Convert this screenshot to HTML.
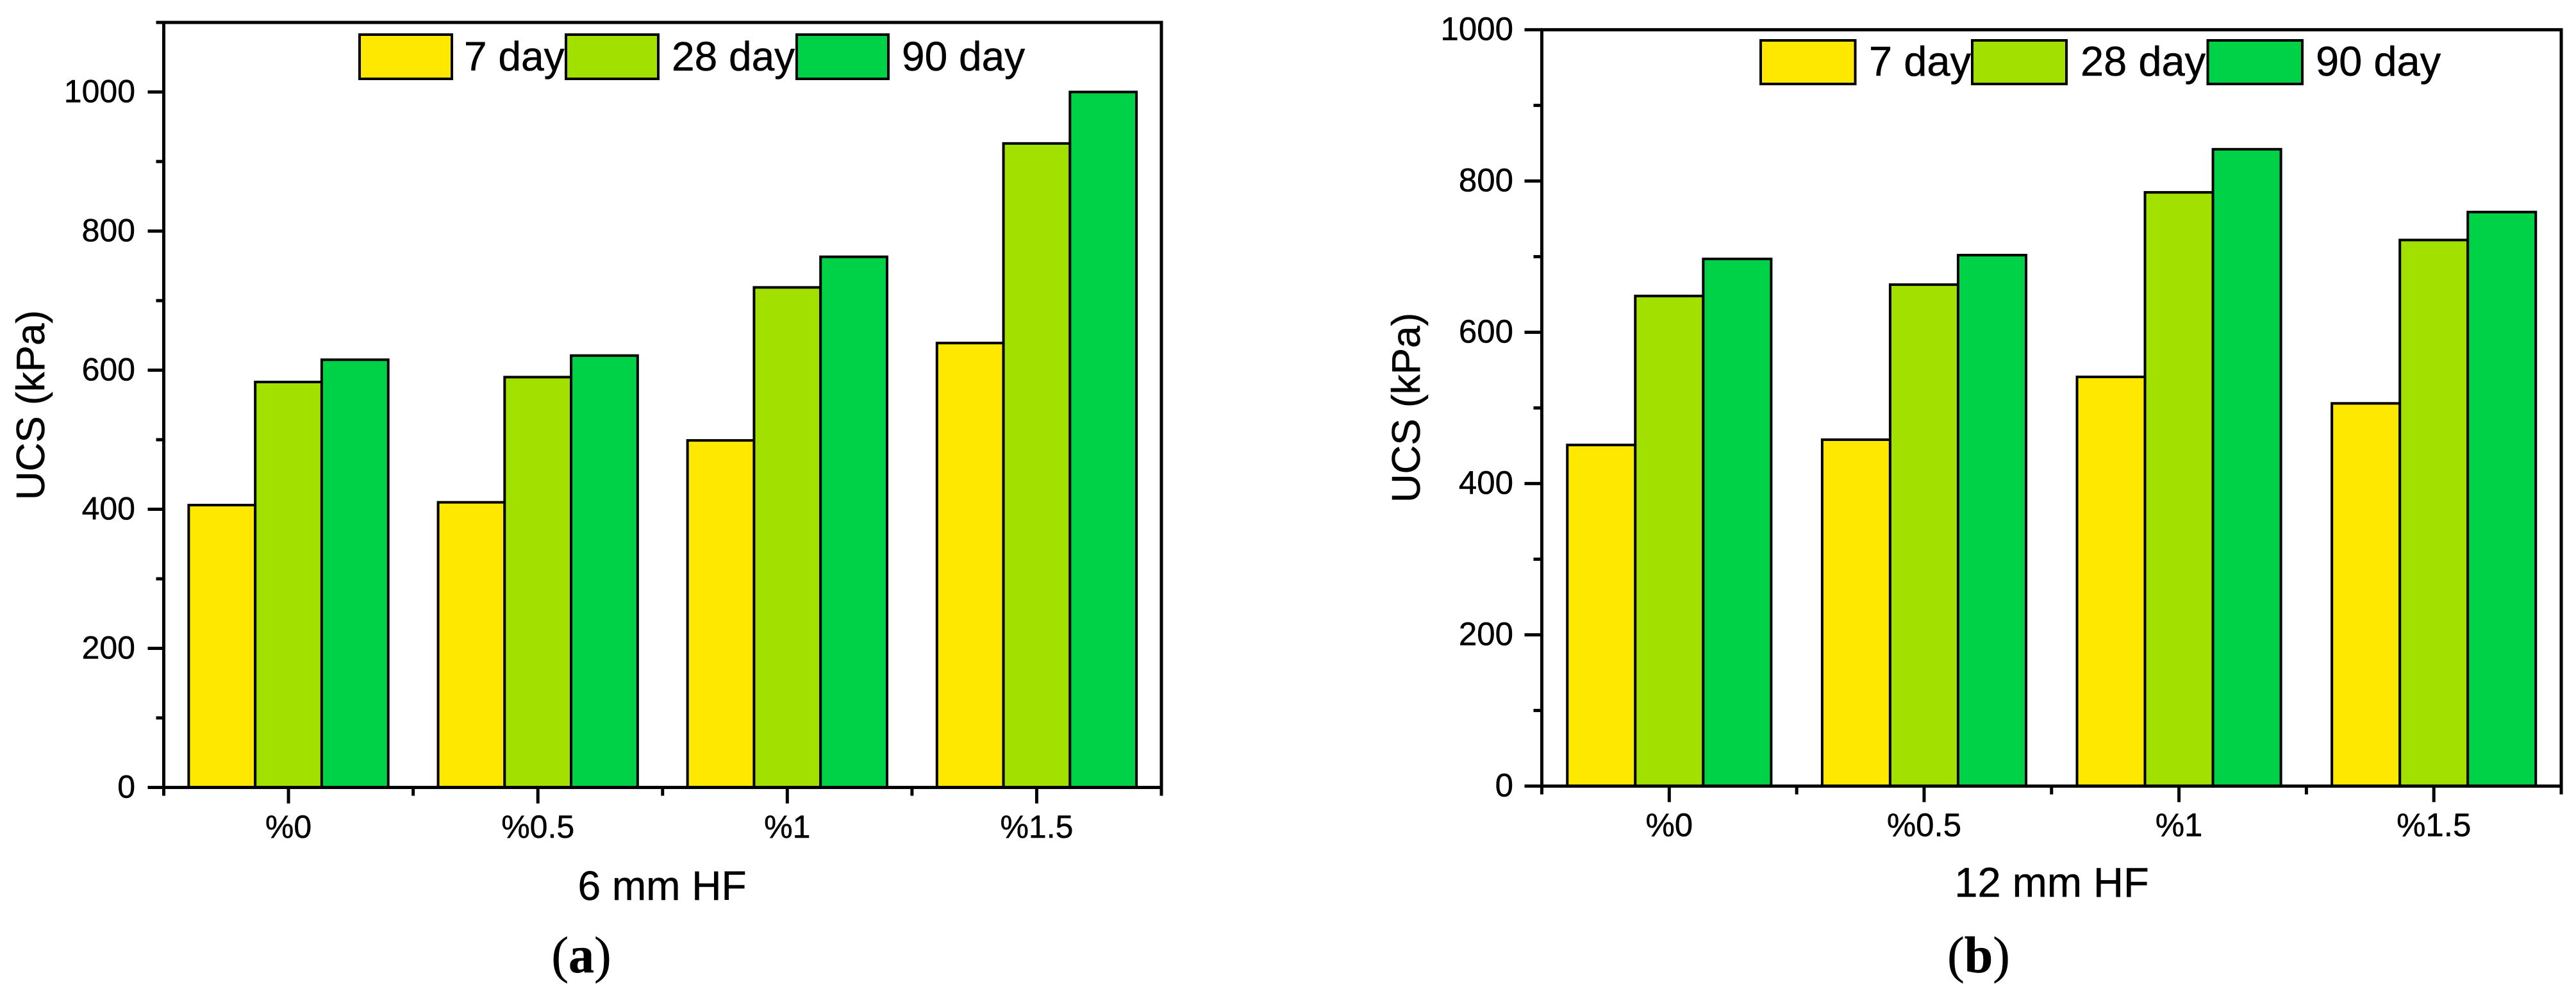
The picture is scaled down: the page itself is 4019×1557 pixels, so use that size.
<!DOCTYPE html>
<html lang="en">
<head>
<meta charset="utf-8">
<title>UCS of fibre-reinforced samples</title>
<style>
html,body{margin:0;padding:0;background:#fff;}
svg{display:block;}
text{font-family:"Liberation Sans",sans-serif;fill:#000;stroke:#000;stroke-width:0.5px;}
.cap{font-family:"Liberation Serif",serif;font-size:80px;}
</style>
</head>
<body>
<svg id="figure" xmlns="http://www.w3.org/2000/svg" width="4019" height="1557" viewBox="0 0 4019 1557">
  <rect x="0" y="0" width="4019" height="1557" fill="#fff"/>
  <g id="panel-a"></g>
  <g id="panel-b"></g>

  <g>
    <g>
      <rect x="561" y="54" width="144" height="69" fill="#FFE800" stroke="#000" stroke-width="4"/>
      <text x="724" y="110" font-size="64">7 day</text>
    </g>
    <g>
      <rect x="883" y="54" width="144" height="69" fill="#A2E000" stroke="#000" stroke-width="4"/>
      <text x="1048" y="110" font-size="64">28 day</text>
    </g>
    <g>
      <rect x="1243" y="54" width="143" height="69" fill="#00D248" stroke="#000" stroke-width="4"/>
      <text x="1407" y="110" font-size="64">90 day</text>
    </g>
  </g>
  <g>
    <g>
      <rect x="2747" y="63" width="147.500" height="68" fill="#FFE800" stroke="#000" stroke-width="4"/>
      <text x="2916" y="118" font-size="65">7 day</text>
    </g>
    <g>
      <rect x="3077" y="63" width="147" height="68" fill="#A2E000" stroke="#000" stroke-width="4"/>
      <text x="3246" y="118" font-size="65">28 day</text>
    </g>
    <g>
      <rect x="3444.500" y="63" width="147.500" height="68" fill="#00D248" stroke="#000" stroke-width="4"/>
      <text x="3613" y="118" font-size="65">90 day</text>
    </g>
  </g>

  <text transform="translate(69,632) rotate(-90)" text-anchor="middle" font-size="62">UCS (kPa)</text>
  <text transform="translate(2215,636) rotate(-90)" text-anchor="middle" font-size="62">UCS (kPa)</text>
  <text x="1033" y="1404" text-anchor="middle" font-size="64">6 mm HF</text>
  <text x="3201" y="1399" text-anchor="middle" font-size="65">12 mm HF</text>
  <text class="cap" x="907" y="1517" text-anchor="middle">(<tspan font-weight="bold">a</tspan>)</text>
  <text class="cap" x="3087" y="1517" text-anchor="middle">(<tspan font-weight="bold">b</tspan>)</text>
</svg>
<script>
const categories = ['%0', '%0.5', '%1', '%1.5'];
const seriesNames = ['7 day', '28 day', '90 day'];
const seriesColors = ['#FFE800', '#A2E000', '#00D248'];

const panelA7 = [406, 410, 499, 639];
const panelA28 = [583, 590, 719, 926];
const panelA90 = [615, 621, 763, 1000];

const panelB7 = [451, 458, 541, 506];
const panelB28 = [648, 663, 785, 722];
const panelB90 = [697, 702, 842, 759];

const panelAMajorTicks = [0, 200, 400, 600, 800, 1000];
const panelAMinorTicks = [100, 300, 500, 700, 900, 1100];
const panelBMajorTicks = [0, 200, 400, 600, 800, 1000];
const panelBMinorTicks = [100, 300, 500, 700, 900];

const SVG_NS = 'http://www.w3.org/2000/svg';

function line(parent, x1, y1, x2, y2, w) {
  const el = document.createElementNS(SVG_NS, 'line');
  el.setAttribute('x1', x1);
  el.setAttribute('y1', y1);
  el.setAttribute('x2', x2);
  el.setAttribute('y2', y2);
  el.setAttribute('stroke', '#000');
  el.setAttribute('stroke-width', w);
  parent.appendChild(el);
  return el;
}

function drawPanel(cfg) {
  const root = document.getElementById(cfg.id);
  const yScale = function (v) {
    return cfg.bottom - (v - cfg.yMin) / (cfg.yMax - cfg.yMin) * (cfg.bottom - cfg.top);
  };
  const xScale = function (pos) {
    return cfg.left + (pos - 0.5) / categories.length * (cfg.right - cfg.left);
  };
  const barUnits = 0.8 / seriesNames.length;

  cfg.series.forEach(function (values, s) {
    values.forEach(function (v, c) {
      const x0 = xScale(c + 1 - 0.4 + s * barUnits);
      const x1 = xScale(c + 1 - 0.4 + (s + 1) * barUnits);
      const rect = document.createElementNS(SVG_NS, 'rect');
      
      
      rect.setAttribute('x', x0);
      rect.setAttribute('y', yScale(v));
      rect.setAttribute('width', x1 - x0);
      rect.setAttribute('height', yScale(0) - yScale(v));
      rect.setAttribute('fill', seriesColors[s]);
      rect.setAttribute('stroke', '#000');
      rect.setAttribute('stroke-width', '4');
      root.appendChild(rect);
    });
  });

  const frame = document.createElementNS(SVG_NS, 'rect');
  
  
  frame.setAttribute('x', cfg.left);
  frame.setAttribute('y', cfg.top);
  frame.setAttribute('width', cfg.right - cfg.left);
  frame.setAttribute('height', cfg.bottom - cfg.top);
  frame.setAttribute('fill', 'none');
  frame.setAttribute('stroke', '#000');
  frame.setAttribute('stroke-width', '5');
  root.appendChild(frame);

  cfg.majorTicks.forEach(function (v) {
    const tick = line(root, cfg.left - cfg.majorLen, yScale(v), cfg.left, yScale(v), 5);
    
    
    const label = document.createElementNS(SVG_NS, 'text');
    
    
    label.setAttribute('x', cfg.left - 44.5);
    label.setAttribute('y', yScale(v) + 16);
    label.setAttribute('text-anchor', 'end');
    label.setAttribute('font-size', cfg.tickFont);
    label.textContent = String(v);
    root.appendChild(label);
  });

  cfg.minorTicks.forEach(function (v) {
    const tick = line(root, cfg.left - cfg.minorLen, yScale(v), cfg.left, yScale(v), 5);
    
    
  });

  categories.forEach(function (name, c) {
    const x = xScale(c + 1);
    const tick = line(root, x, cfg.bottom, x, cfg.bottom + 25, 5);
    
    
    const label = document.createElementNS(SVG_NS, 'text');
    
    
    label.setAttribute('x', x);
    label.setAttribute('y', cfg.xLabelY);
    label.setAttribute('text-anchor', 'middle');
    label.setAttribute('font-size', cfg.tickFont);
    label.textContent = name;
    root.appendChild(label);
  });

  for (let c = 0; c <= categories.length; c++) {
    const x = xScale(c + 0.5);
    const tick = line(root, x, cfg.bottom, x, cfg.bottom + 13, 5);
    
    
  }
}

drawPanel({
  id: 'panel-a',
  left: 255.5, right: 1812, top: 35, bottom: 1228.5,
  yMin: 0, yMax: 1100,
  majorLen: 25, minorLen: 12,
  tickFont: 50, xLabelY: 1307,
  series: [panelA7, panelA28, panelA90],
  majorTicks: panelAMajorTicks,
  minorTicks: panelAMinorTicks
});

drawPanel({
  id: 'panel-b',
  left: 2405.5, right: 3996, top: 46.4, bottom: 1226.4,
  yMin: 0, yMax: 1000,
  majorLen: 27, minorLen: 13,
  tickFont: 51, xLabelY: 1304.6,
  series: [panelB7, panelB28, panelB90],
  majorTicks: panelBMajorTicks,
  minorTicks: panelBMinorTicks
});
</script>
</body>
</html>
